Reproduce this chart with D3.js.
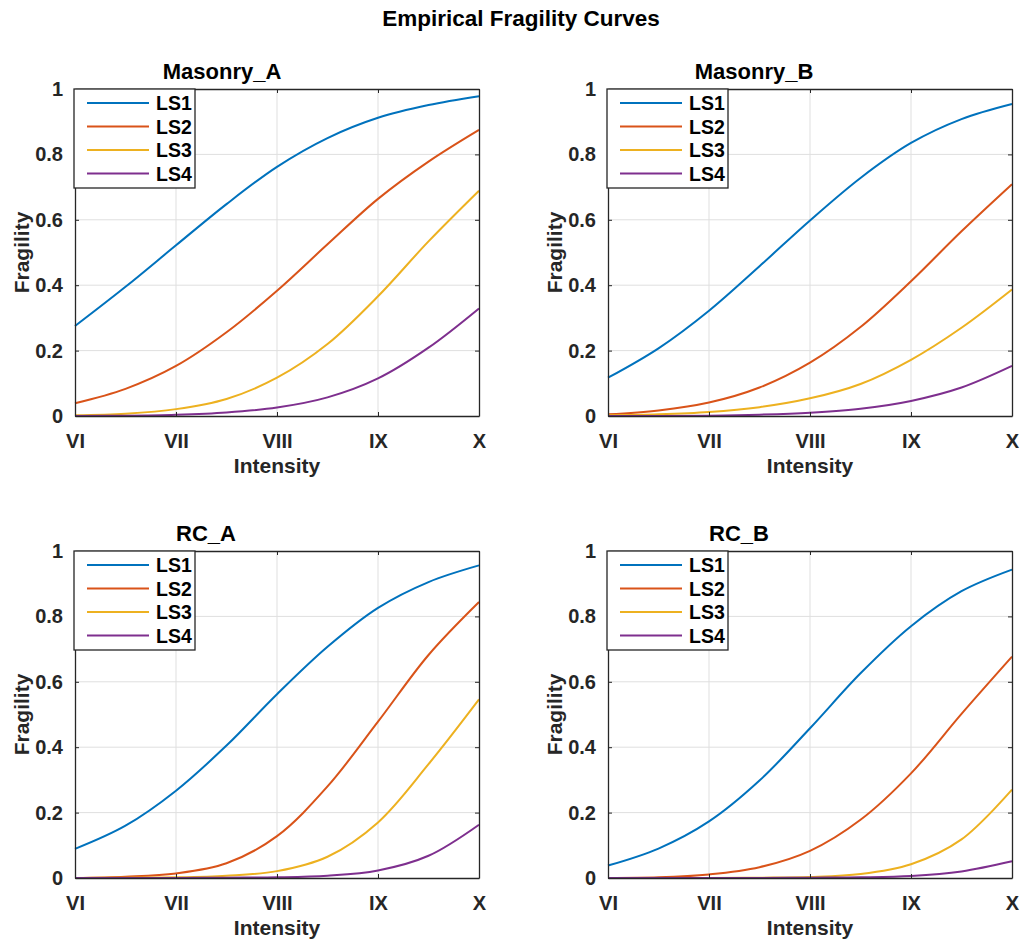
<!DOCTYPE html>
<html>
<head>
<meta charset="utf-8">
<script src="https://cdn.jsdelivr.net/npm/d3@7"></script>
<style>
  body { margin: 0; background: #fff; }
  svg { font-family: "Liberation Sans", Arial, sans-serif; font-weight: bold; }
</style>
</head>
<body>
<div id="chart"></div>
<script>
// intensity grid the curves were read at (VI..X)
var intensity = [6, 6.5, 7, 7.5, 8, 8.5, 9, 9.5, 10];
var tickValues = [6, 7, 8, 9, 10];
var tickLabels = ["VI", "VII", "VIII", "IX", "X"];
var yTicks = [0, 0.2, 0.4, 0.6, 0.8, 1];
var stateNames = ["LS1", "LS2", "LS3", "LS4"];
var panelNames = ["Masonry_A", "Masonry_B", "RC_A", "RC_B"];

// fragility values, one array per limit state
var masonryA = [
    [0.275, 0.395, 0.522, 0.648, 0.762, 0.850, 0.912, 0.951, 0.978],
    [0.039, 0.083, 0.153, 0.256, 0.383, 0.525, 0.664, 0.778, 0.875],
    [0.002, 0.007, 0.021, 0.052, 0.117, 0.220, 0.366, 0.534, 0.689],
    [0.000, 0.001, 0.004, 0.011, 0.026, 0.057, 0.115, 0.209, 0.329]
];
var masonryB = [
    [0.117, 0.207, 0.322, 0.458, 0.598, 0.728, 0.835, 0.908, 0.954],
    [0.005, 0.017, 0.041, 0.087, 0.163, 0.272, 0.412, 0.565, 0.709],
    [0.002, 0.005, 0.012, 0.027, 0.054, 0.098, 0.172, 0.270, 0.387],
    [0.000, 0.000, 0.001, 0.004, 0.010, 0.022, 0.046, 0.087, 0.153]
];
var rcA = [
    [0.089, 0.160, 0.267, 0.405, 0.562, 0.707, 0.826, 0.905, 0.956],
    [0.000, 0.004, 0.014, 0.045, 0.128, 0.280, 0.478, 0.682, 0.844],
    [0.000, 0.001, 0.002, 0.007, 0.021, 0.065, 0.170, 0.348, 0.546],
    [0.000, 0.000, 0.000, 0.001, 0.002, 0.007, 0.023, 0.068, 0.163]
];
var rcB = [
    [0.038, 0.090, 0.173, 0.298, 0.458, 0.626, 0.770, 0.877, 0.943],
    [0.000, 0.002, 0.011, 0.033, 0.083, 0.178, 0.320, 0.502, 0.677],
    [0.000, 0.000, 0.000, 0.001, 0.003, 0.012, 0.042, 0.118, 0.270],
    [0.000, 0.000, 0.000, 0.000, 0.001, 0.002, 0.006, 0.020, 0.051]
];
var panelData = [masonryA, masonryB, rcA, rcB];

var colors = ["#0072BD", "#D95319", "#EDB120", "#7E2F8E"];

var width = 1022, height = 947,
    plotW = 404, plotH = 327;
// left/top of each axes box, and centre of each subplot title
var origins = [[75, 89], [608, 89], [75, 551], [608, 551]];
var titleOffsets = [147, 146, 131, 131];

var svg = d3.select("#chart").append("svg")
    .attr("width", width)
    .attr("height", height);

svg.append("text")
    .attr("x", 521)
    .attr("y", 26)
    .attr("text-anchor", "middle")
    .style("font-size", "22.5px")
    .text("Empirical Fragility Curves");

var x = d3.scaleLinear().domain([6, 10]).range([0, plotW]);
var y = d3.scaleLinear().domain([0, 1]).range([plotH, 0]);

var line = d3.line()
    .x(function(d) { return x(d[0]); })
    .y(function(d) { return Math.min(y(d[1]), plotH); })
    .curve(d3.curveCatmullRom.alpha(0.5));

panelData.forEach(function(series, p) {
    var g = svg.append("g")
        .attr("transform", "translate(" + origins[p][0] + "," + origins[p][1] + ")");

    // grid
    g.append("g").selectAll("line")
        .data(tickValues.slice(1, -1))
        .enter().append("line")
        .attr("x1", function(d) { return x(d); })
        .attr("x2", function(d) { return x(d); })
        .attr("y1", 0).attr("y2", plotH)
        .attr("stroke", "#dfdfdf").attr("stroke-width", 1);
    g.append("g").selectAll("line")
        .data(yTicks.slice(1, -1))
        .enter().append("line")
        .attr("y1", function(d) { return y(d); })
        .attr("y2", function(d) { return y(d); })
        .attr("x1", 0).attr("x2", plotW)
        .attr("stroke", "#dfdfdf").attr("stroke-width", 1);

    // curves
    series.forEach(function(vals, i) {
        g.append("path")
            .datum(intensity.map(function(v, k) { return [v, vals[k]]; }))
            .attr("d", line)
            .attr("fill", "none")
            .attr("stroke", colors[i])
            .attr("stroke-width", 2);
    });

    // axes, ticks pointing inward like matlab
    var xAxis = g.append("g")
        .attr("transform", "translate(0," + plotH + ")")
        .call(d3.axisBottom(x).tickValues(tickValues).tickSizeInner(-4).tickSizeOuter(0).tickPadding(18)
            .tickFormat(function(d, i) { return tickLabels[i]; }));
    var yAxis = g.append("g")
        .call(d3.axisLeft(y).tickValues(yTicks).tickSizeInner(-4).tickSizeOuter(0).tickPadding(12)
            .tickFormat(d3.format("~g")));
    g.append("g")
        .call(d3.axisTop(x).tickValues(tickValues).tickSizeInner(-4).tickSizeOuter(0).tickFormat(""));
    g.append("g")
        .attr("transform", "translate(" + plotW + ",0)")
        .call(d3.axisRight(y).tickValues(yTicks).tickSizeInner(-4).tickSizeOuter(0).tickFormat(""));

    g.selectAll(".domain").attr("stroke", "#262626").attr("stroke-width", 1.3);
    g.selectAll(".tick line").attr("stroke", "#262626").attr("stroke-width", 1);
    xAxis.selectAll("text")
        .style("font-size", "20px").style("font-family", "Liberation Sans, Arial, sans-serif")
        .attr("fill", "#262626");
    yAxis.selectAll("text")
        .style("font-size", "20px").style("font-family", "Liberation Sans, Arial, sans-serif")
        .attr("fill", "#262626");

    // labels
    g.append("text")
        .attr("x", plotW / 2)
        .attr("y", plotH + 57)
        .attr("text-anchor", "middle")
        .attr("fill", "#262626")
        .style("font-size", "21px")
        .text("Intensity");
    g.append("text")
        .attr("transform", "translate(-46," + plotH / 2 + ")rotate(-90)")
        .attr("text-anchor", "middle")
        .attr("fill", "#262626")
        .style("font-size", "21px")
        .text("Fragility");
    g.append("text")
        .attr("x", titleOffsets[p])
        .attr("y", -10)
        .attr("text-anchor", "middle")
        .style("font-size", "22px")
        .text(panelNames[p]);

    // legend
    var lg = g.append("g").attr("transform", "translate(-1,0)");
    lg.append("rect")
        .attr("width", 121).attr("height", 99)
        .attr("fill", "#fff")
        .attr("stroke", "#262626").attr("stroke-width", 1.3);
    stateNames.forEach(function(name, i) {
        var ly = 14 + i * 23.5;
        lg.append("line")
            .attr("x1", 13).attr("x2", 75)
            .attr("y1", ly).attr("y2", ly)
            .attr("stroke", colors[i]).attr("stroke-width", 2);
        lg.append("text")
            .attr("x", 82).attr("y", ly + 7)
            .style("font-size", "19.5px")
            .text(name);
    });
});
</script>
</body>
</html>
